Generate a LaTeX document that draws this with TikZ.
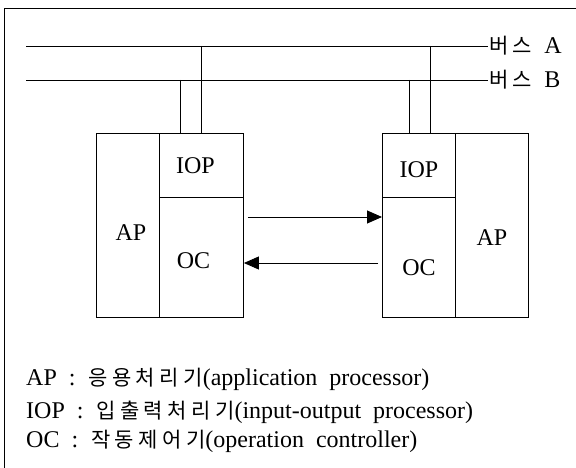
\documentclass[tikz,border=0pt]{standalone}
\usepackage{fontspec}
\setmainfont{Liberation Serif}[WordSpace=2]
\newfontfamily\kr[Scale=0.875,LetterSpace=21]{Noto Sans CJK KR}
\usetikzlibrary{arrows.meta}

\begin{document}
\begin{tikzpicture}[x=1pt, y=-1pt, font=\fontsize{24}{28}\selectfont,
  part/.style={draw, line width=0.9pt, anchor=north west, inner sep=0pt},
  wire/.style={line width=0.9pt},
  signal/.style={line width=0.9pt, -{Triangle[length=15pt,width=13pt]}},
  legend/.style={anchor=west, inner sep=0pt}]
  \useasboundingbox (0,0) rectangle (576,468);

  % --- Frame ---
  \draw[wire] (4,468) -- (4,8) -- (576,8);

  % --- Buses ---
  \coordinate (busA-w) at (26,46);
  \coordinate (busB-w) at (26,80);
  \node[anchor=west, inner sep=1pt] (busA) at (488,46) {{\kr 버스}~A};
  \node[anchor=west, inner sep=1pt] (busB) at (488,80) {{\kr 버스}~B};
  \draw[wire] (busA-w) -- (busA.west);
  \draw[wire] (busB-w) -- (busB.west);

  % --- Left unit ---
  \node[part, minimum width=63pt, minimum height=184pt,
    label={[xshift=3pt, yshift=-7pt]center:AP}] (lap) at (96,133) {};
  \node[part, minimum width=84pt, minimum height=64pt,
    label={[xshift=-6pt]center:IOP}] (liop) at (159,133) {};
  \node[part, minimum width=84pt, minimum height=120pt,
    label={[xshift=-8pt, yshift=-3pt]center:OC}] (loc) at (159,197) {};

  % --- Right unit ---
  \node[part, minimum width=73pt, minimum height=64pt,
    label={[yshift=-4pt]center:IOP}] (riop) at (382,133) {};
  \node[part, minimum width=73pt, minimum height=120pt,
    label={[yshift=-10pt]center:OC}] (roc) at (382,197) {};
  \node[part, minimum width=73pt, minimum height=184pt,
    label={[yshift=-12pt]center:AP}] (rap) at (455,133) {};

  % --- Bus drops ---
  \coordinate (ldropB) at (180,80);
  \coordinate (ldropA) at (201,46);
  \coordinate (rdropB) at (409,80);
  \coordinate (rdropA) at (430,46);
  \draw[wire] (ldropB) -- (ldropB |- liop.north);
  \draw[wire] (ldropA) -- (ldropA |- liop.north);
  \draw[wire] (rdropB) -- (rdropB |- riop.north);
  \draw[wire] (rdropA) -- (rdropA |- riop.north);

  % --- OC links ---
  \coordinate (req) at (0,217);
  \coordinate (ack) at (0,263);
  \draw[signal, shorten <=4pt] (loc.east |- req) -- (roc.west |- req);
  \draw[signal, shorten <=4pt] (roc.west |- ack) -- (loc.east |- ack);

  % --- Legend ---
  \node[legend] (leg-ap) at (26,379) {AP~:\hspace{13pt}{\kr 응용처리기}(application processor)};
  \node[legend] (leg-iop) at (26,412) {IOP~:\hspace{13pt}{\kr 입출력처리기}(input-output processor)};
  \node[legend] (leg-oc) at (26,441) {OC~:\hspace{13pt}{\kr 작동제어기}(operation controller)};

\end{tikzpicture}
\end{document}
